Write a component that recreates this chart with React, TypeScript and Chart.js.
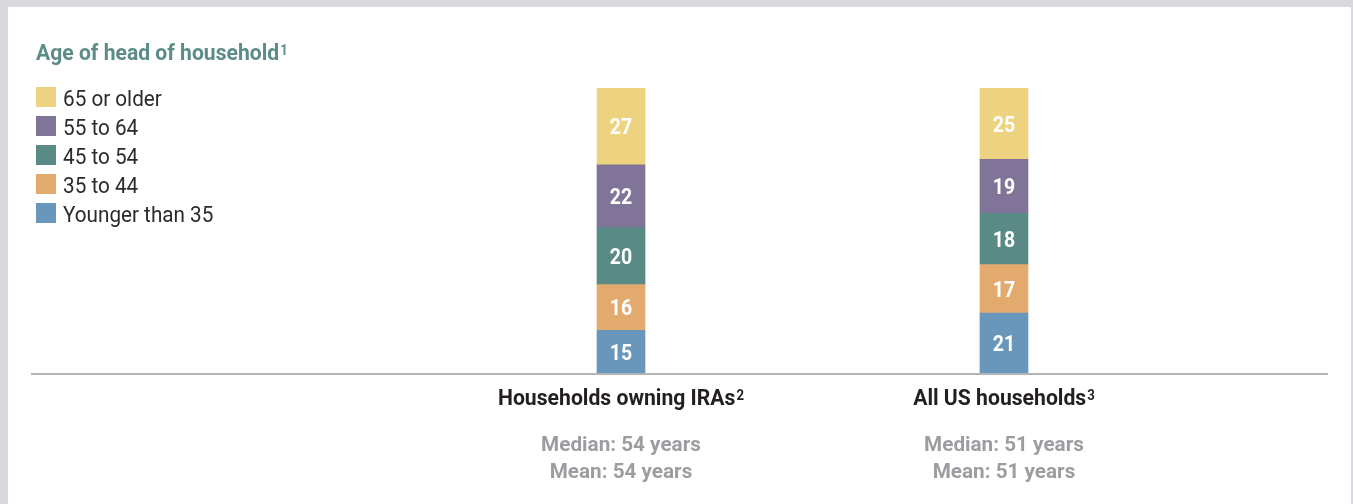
import React, { useEffect, useRef } from "react";
import { Chart, registerables } from "chart.js";

Chart.register(...registerables);

// ---- data ----
const categories = ["Households owning IRAs", "All US households"];
const categoryNotes = ["2", "3"];
const medianLines = ["Median: 54 years", "Median: 51 years"];
const meanLines = ["Mean: 54 years", "Mean: 51 years"];
const seriesLabels = ["Younger than 35", "35 to 44", "45 to 54", "55 to 64", "65 or older"];
const younger35 = [15, 21];
const age35to44 = [16, 17];
const age45to54 = [20, 18];
const age55to64 = [22, 19];
const age65plus = [27, 25];
const seriesColors = ["#6996bb", "#e3aa6e", "#5a8a86", "#807498", "#edd380"];
const titleText = "Age of head of household";
const titleNote = "1";

const FAMILY = "Roboto, 'Noto Sans', sans-serif";

type TextStyle = { weight: string; size: number; calib: string; calibWidth: number; color: string };

const titleStyle: TextStyle = { weight: "bold", size: 22.5, calib: "Age of head of household", calibWidth: 242.5, color: "#5c8c88" };
const legendStyle: TextStyle = { weight: "normal", size: 22, calib: "Younger than 35", calibWidth: 150, color: "#2b2b2b" };
const catStyle: TextStyle = { weight: "bold", size: 22.5, calib: "Households owning IRAs", calibWidth: 236, color: "#231f20" };
const statStyle: TextStyle = { weight: "bold", size: 21, calib: "Median: 54 years", calibWidth: 159, color: "#9d9da1" };
const valueStyle: TextStyle = { weight: "bold", size: 22.5, calib: "27", calibWidth: 21.6, color: "#ffffff" };

function fontOf(s: TextStyle, size?: number) {
  return `${s.weight} ${size ?? s.size}px ${FAMILY}`;
}

function scaleOf(ctx: CanvasRenderingContext2D, s: TextStyle) {
  ctx.font = fontOf(s);
  const m = ctx.measureText(s.calib);
  const ink = m.actualBoundingBoxLeft + m.actualBoundingBoxRight;
  return ink > 0 ? s.calibWidth / ink : 1;
}

function drawText(
  ctx: CanvasRenderingContext2D,
  text: string,
  x: number,
  y: number,
  s: TextStyle,
  align: "left" | "center",
  sup?: string
) {
  const sx = scaleOf(ctx, s);
  ctx.font = fontOf(s);
  const w1 = ctx.measureText(text).width * sx;
  let w2 = 0;
  const supSize = Math.round(s.size * 0.6);
  if (sup) {
    ctx.font = fontOf(s, supSize);
    w2 = ctx.measureText(sup).width * sx + 1;
  }
  const total = w1 + w2;
  const start = align === "center" ? x - total / 2 : x;
  ctx.save();
  ctx.fillStyle = s.color;
  ctx.textAlign = "left";
  ctx.textBaseline = "alphabetic";
  ctx.translate(start, y);
  ctx.scale(sx, 1);
  ctx.font = fontOf(s);
  ctx.fillText(text, 0, 0);
  if (sup) {
    ctx.font = fontOf(s, supSize);
    ctx.fillText(sup, (w1 + 1) / sx, -5);
  }
  ctx.restore();
}

const decorPlugin = {
  id: "decor",
  afterDatasetsDraw(chart: any) {
    const ctx: CanvasRenderingContext2D = chart.ctx;
    const { left, right, bottom } = chart.chartArea;
    ctx.save();
    // baseline axis
    ctx.fillStyle = "#b4b4b4";
    ctx.fillRect(left, bottom, right - left, 2);

    // value labels
    chart.data.datasets.forEach((ds: any, di: number) => {
      const meta = chart.getDatasetMeta(di);
      meta.data.forEach((bar: any, i: number) => {
        const { x, y, base } = bar.getProps(["x", "y", "base"], true);
        const cy = (y + base) / 2;
        drawText(ctx, String(ds.data[i].y), x, cy + 8, valueStyle, "center");
      });
    });

    // category labels + stats
    const xs = chart.scales.x;
    categories.forEach((c, i) => {
      const px = xs.getPixelForValue(i);
      drawText(ctx, c, px, 405, catStyle, "center", categoryNotes[i]);
      drawText(ctx, medianLines[i], px, 451, statStyle, "center");
      drawText(ctx, meanLines[i], px, 478, statStyle, "center");
    });

    // title
    drawText(ctx, titleText, 36, 60, titleStyle, "left", titleNote);

    // legend (top = last series)
    const n = chart.data.datasets.length;
    for (let k = 0; k < n; k++) {
      const ds = chart.data.datasets[n - 1 - k];
      const top = 87 + k * 29;
      ctx.fillStyle = ds.backgroundColor;
      ctx.fillRect(36, top, 20, 20);
      drawText(ctx, ds.label, 63, top + 19, legendStyle, "left");
    }
    ctx.restore();
  },
};

export default function App() {
  const ref = useRef<HTMLCanvasElement | null>(null);
  useEffect(() => {
    if (!ref.current) return;
    const series = [younger35, age35to44, age45to54, age55to64, age65plus];
    const chart = new Chart(ref.current, {
      type: "bar",
      data: {
        datasets: series.map((vals, si) => ({
          label: seriesLabels[si],
          data: vals.map((v, i) => ({ x: i, y: v })),
          backgroundColor: seriesColors[si],
          borderWidth: 0,
          barThickness: 48,
        })),
      },
      options: {
        responsive: false,
        animation: false,
        devicePixelRatio: 1,
        layout: { padding: { left: 31, right: 25, top: 88, bottom: 131 } },
        plugins: { legend: { display: false }, tooltip: { enabled: false }, title: { display: false } },
        scales: {
          x: { type: "linear", stacked: true, display: false, offset: false, min: -1.5405, max: 1.846 },
          y: { stacked: true, display: false, min: 0, max: 100 },
        },
      },
      plugins: [decorPlugin],
    } as any);
    return () => chart.destroy();
  }, []);
  return (
    <div style={{ position: "absolute", left: 0, top: 0, width: 1353, height: 504, background: "#d8d8dd", overflow: "hidden" }}>
      <div style={{ position: "absolute", left: 8, top: 7, width: 1343, height: 497, background: "#ffffff" }} />
      <canvas ref={ref} width={1353} height={504} style={{ position: "absolute", left: 0, top: 0, width: 1353, height: 504 }} />
    </div>
  );
}
